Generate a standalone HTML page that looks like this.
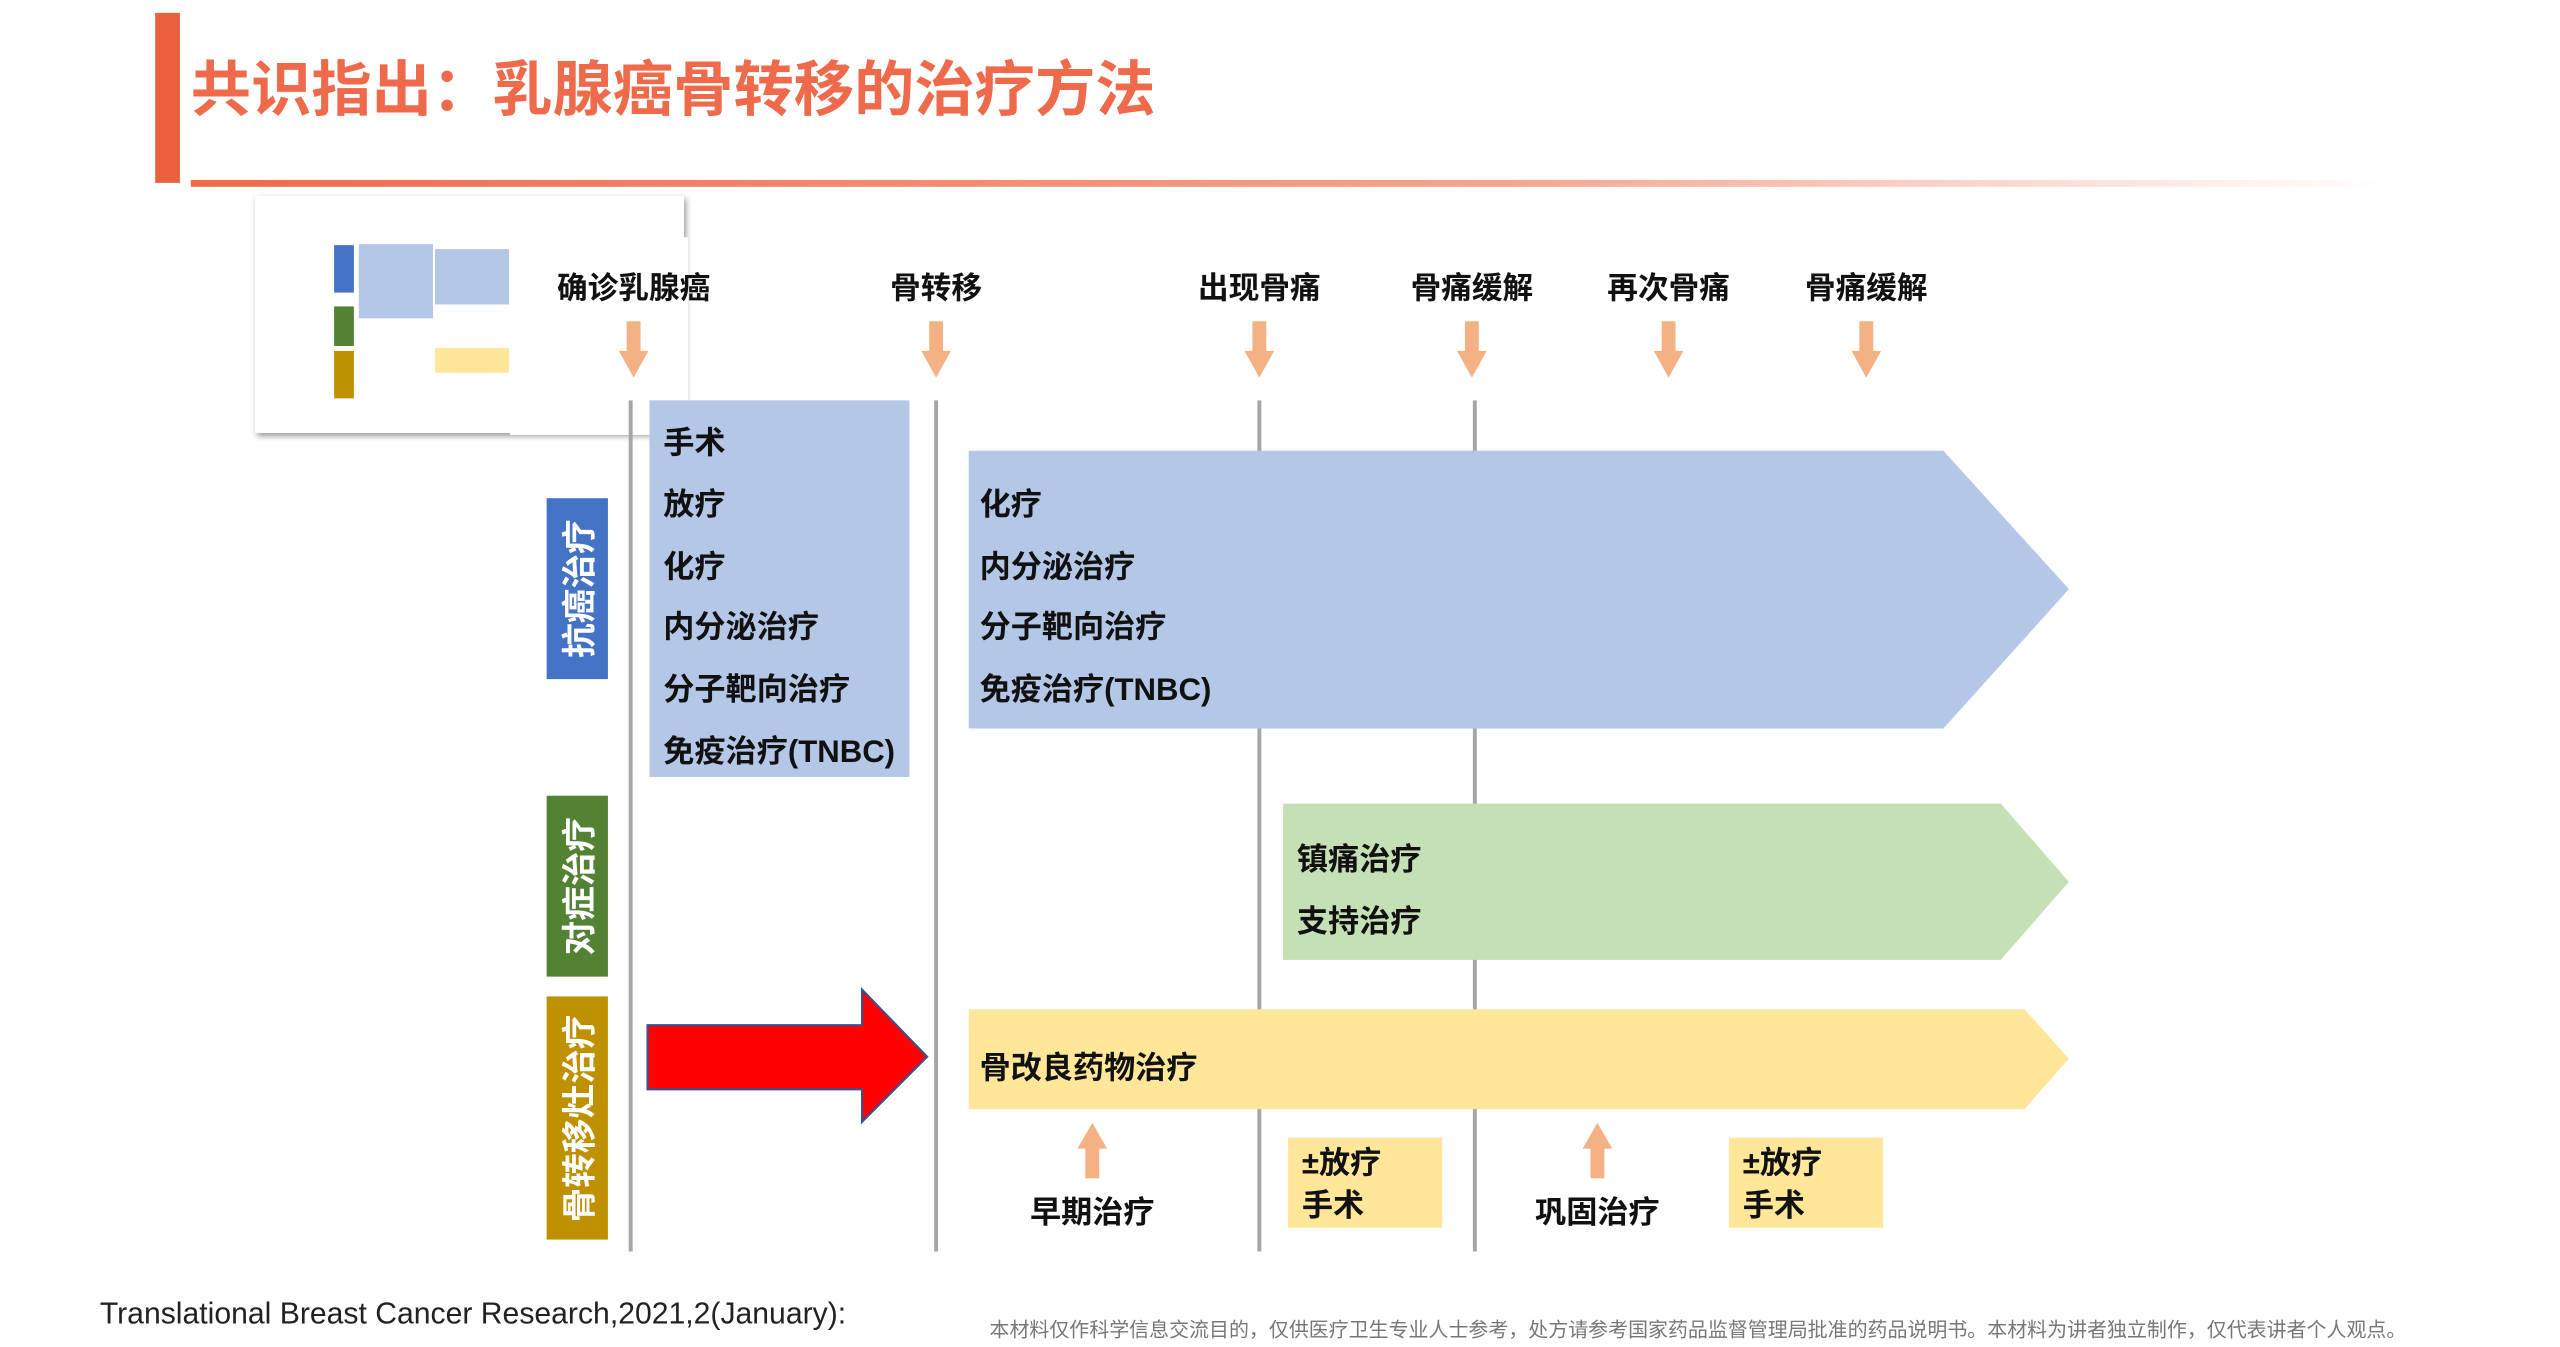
<!DOCTYPE html>
<html><head><meta charset="utf-8"><style>
html,body{margin:0;padding:0;background:#fff;}
body{width:2560px;height:1347px;position:relative;overflow:hidden;font-family:"Liberation Sans","Noto Sans CJK SC",sans-serif;}
#w{position:absolute;left:0;top:0;width:2590px;height:1363px;transform:scale(0.9885);transform-origin:0 0;}
.t{position:absolute;white-space:nowrap;font-weight:bold;color:#111;line-height:1;}
.h{font-size:31px;transform:translateX(-50%);}
.b{font-size:31.5px;}
.v{position:absolute;color:#fff;font-weight:bold;font-size:35px;display:flex;align-items:center;justify-content:center;}
.v span{transform:rotate(-90deg);white-space:nowrap;display:block;}
</style></head><body><div id="w">
<div style="position:absolute;left:157px;top:13px;width:25px;height:172px;background:#E8613C"></div>
<div style="position:absolute;left:193px;top:182px;width:2220px;height:7px;background:linear-gradient(90deg,#EE6A4B,#F5A58F 60%,rgba(255,255,255,0))"></div>
<div class="t" style="left:193px;top:61px;font-size:61px;color:#EE6A4B;">共识指出：乳腺癌骨转移的治疗方法</div>

<!-- thumbnail -->
<div style="position:absolute;left:258px;top:198px;width:434px;height:240px;background:#fff;box-shadow:2px 3px 6px #999;"></div>
<div style="position:absolute;left:338px;top:248px;width:20px;height:48px;background:#4472C4"></div>
<div style="position:absolute;left:338px;top:310px;width:20px;height:40px;background:#548235"></div>
<div style="position:absolute;left:338px;top:355px;width:20px;height:48px;background:#BF9000"></div>
<div style="position:absolute;left:363px;top:247px;width:75px;height:75px;background:#B4C7E7"></div>
<div style="position:absolute;left:440px;top:252px;width:75px;height:56px;background:#B4C7E7"></div>
<div style="position:absolute;left:440px;top:352px;width:75px;height:25px;background:#FFE699"></div>
<div style="position:absolute;left:516px;top:240px;width:180px;height:200px;background:#fff"></div>

<svg width="2590" height="1363" style="position:absolute;left:0;top:0">
<g stroke="#A6A6A6" stroke-width="4">
<line x1="638" y1="405" x2="638" y2="1266"/><line x1="947" y1="405" x2="947" y2="1266"/>
<line x1="1274" y1="405" x2="1274" y2="1266"/><line x1="1492" y1="405" x2="1492" y2="1266"/>
</g>
<rect x="657" y="405" width="263" height="381" fill="#B4C7E7"/>
<polygon points="980,456 1966,456 2093,596 1966,737 980,737" fill="#B4C7E7"/>
<polygon points="1298,813 2024,813 2093,892 2024,971 1298,971" fill="#C5E0B4"/>
<polygon points="980,1021 2048,1021 2093,1071 2048,1122 980,1122" fill="#FFE699"/>
<rect x="1303" y="1151" width="156" height="91" fill="#FFE699"/>
<rect x="1749" y="1151" width="156" height="91" fill="#FFE699"/>
<polygon points="655,1037 872,1037 872,1001 938,1069 872,1135 872,1102 655,1102" fill="#FF0000" stroke="#2F5597" stroke-width="2"/>
<g fill="#F4B183">
<rect x="634" y="325" width="14" height="32"/><polygon points="626,355 656,355 641,382"/>
<rect x="940" y="325" width="14" height="32"/><polygon points="932,355 962,355 947,382"/>
<rect x="1267" y="325" width="14" height="32"/><polygon points="1259,355 1289,355 1274,382"/>
<rect x="1482" y="325" width="14" height="32"/><polygon points="1474,355 1504,355 1489,382"/>
<rect x="1681" y="325" width="14" height="32"/><polygon points="1673,355 1703,355 1688,382"/>
<rect x="1881" y="325" width="14" height="32"/><polygon points="1873,355 1903,355 1888,382"/>
<rect x="1098" y="1160" width="14" height="32"/><polygon points="1090,1162 1120,1162 1105,1136"/>
<rect x="1609" y="1160" width="14" height="32"/><polygon points="1601,1162 1631,1162 1616,1136"/>
</g>
</svg>

<div class="v" style="left:553px;top:504px;width:62px;height:183px;background:#4472C4"><span>抗癌治疗</span></div>
<div class="v" style="left:553px;top:805px;width:62px;height:183px;background:#548235"><span>对症治疗</span></div>
<div class="v" style="left:553px;top:1008px;width:62px;height:246px;background:#BF9000"><span>骨转移灶治疗</span></div>

<div class="t h" style="left:641px;top:276px;">确诊乳腺癌</div>
<div class="t h" style="left:947px;top:276px;">骨转移</div>
<div class="t h" style="left:1274px;top:276px;">出现骨痛</div>
<div class="t h" style="left:1489px;top:276px;">骨痛缓解</div>
<div class="t h" style="left:1688px;top:276px;">再次骨痛</div>
<div class="t h" style="left:1888px;top:276px;">骨痛缓解</div>

<div class="t b" style="left:671px;top:433px;">手术</div>
<div class="t b" style="left:671px;top:495px;">放疗</div>
<div class="t b" style="left:671px;top:558px;">化疗</div>
<div class="t b" style="left:671px;top:619px;">内分泌治疗</div>
<div class="t b" style="left:671px;top:682px;">分子靶向治疗</div>
<div class="t b" style="left:671px;top:745px;">免疫治疗(TNBC)</div>

<div class="t b" style="left:991px;top:495px;">化疗</div>
<div class="t b" style="left:991px;top:558px;">内分泌治疗</div>
<div class="t b" style="left:991px;top:619px;">分子靶向治疗</div>
<div class="t b" style="left:991px;top:682px;">免疫治疗(TNBC)</div>

<div class="t b" style="left:1312px;top:854px;">镇痛治疗</div>
<div class="t b" style="left:1312px;top:917px;">支持治疗</div>
<div class="t b" style="left:991px;top:1065px;">骨改良药物治疗</div>

<div class="t b" style="left:1317px;top:1161px;">±放疗</div>
<div class="t b" style="left:1317px;top:1204px;">手术</div>
<div class="t b" style="left:1763px;top:1161px;">±放疗</div>
<div class="t b" style="left:1763px;top:1204px;">手术</div>
<div class="t b" style="left:1105px;top:1211px;transform:translateX(-50%);">早期治疗</div>
<div class="t b" style="left:1616px;top:1211px;transform:translateX(-50%);">巩固治疗</div>

<div style="position:absolute;left:101px;top:1312px;font-size:30.5px;color:#222;white-space:nowrap;">Translational Breast Cancer Research,2021,2(January):</div>
<div style="position:absolute;left:1001px;top:1336px;font-size:20.2px;color:#777;white-space:nowrap;line-height:1;">本材料仅作科学信息交流目的，仅供医疗卫生专业人士参考，处方请参考国家药品监督管理局批准的药品说明书。本材料为讲者独立制作，仅代表讲者个人观点。</div>
</div></body></html>
